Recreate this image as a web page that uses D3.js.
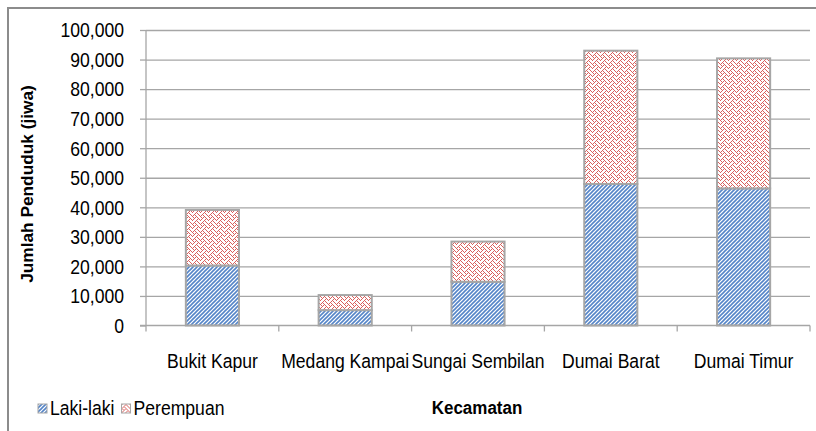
<!DOCTYPE html>
<html>
<head>
<meta charset="utf-8">
<script src="https://d3js.org/d3.v7.min.js"></script>
<style>
body {margin:0; background:#fff;}
svg text {font-family:"Liberation Sans", Arial, sans-serif; fill:#000;}
</style>
</head>
<body>
<svg id="chart" width="816" height="431"></svg>
<script>
// data
const kecamatan = ["Bukit Kapur", "Medang Kampai", "Sungai Sembilan", "Dumai Barat", "Dumai Timur"];
const lakiLaki = [20300, 5200, 14800, 47900, 46400];
const perempuan = [18800, 5100, 13600, 45100, 44000];
const yTicks = [0, 10000, 20000, 30000, 40000, 50000, 60000, 70000, 80000, 90000, 100000];
const seriesNames = ["Laki-laki", "Perempuan"];

const svg = d3.select("#chart");
const plotL = 146, plotR = 810, plotT = 30, plotB = 325.5;
const stretch = "scale(1,1.12)";
const fs = 17.6;

// outer frame, cut off on the right and bottom like the picture
svg.append("rect").attr("x", 8).attr("y", 8).attr("width", 900).attr("height", 500)
  .attr("fill", "none").attr("stroke", "#8c8c8c").attr("stroke-width", 2);

// fill patterns
const defs = svg.append("defs");
const pb = defs.append("pattern").attr("id", "blueHatch").attr("patternUnits", "userSpaceOnUse")
  .attr("width", 4).attr("height", 4);
pb.append("rect").attr("width", 4).attr("height", 4).attr("fill", "#fff");
pb.append("path").attr("d", "M-1,1 l2,-2 M0,4 l4,-4 M3,5 l2,-2")
  .attr("stroke", "#5585c8").attr("stroke-width", 1.6);

// weave bitmap, 8x8
const weaveRows = [0x88, 0x54, 0x22, 0x45, 0x88, 0x14, 0x22, 0x51];
const pr = defs.append("pattern").attr("id", "redWeave").attr("patternUnits", "userSpaceOnUse")
  .attr("width", 8).attr("height", 8);
pr.append("rect").attr("width", 8).attr("height", 8).attr("fill", "#fff");
weaveRows.forEach((bits, r) => {
  for (let c = 0; c < 8; c++) {
    if (bits & (0x80 >> c)) {
      pr.append("rect").attr("x", c).attr("y", r).attr("width", 1).attr("height", 1).attr("fill", "#d9605d");
    }
  }
});

const x = d3.scaleBand().domain(kecamatan).range([plotL, plotR]).paddingInner(0.6).paddingOuter(0.3);
const y = d3.scaleLinear().domain([0, 100000]).range([plotB, plotT]);

// gridlines
svg.append("g").attr("transform", `translate(${plotL},0)`)
  .call(d3.axisLeft(y).tickValues(yTicks.slice(1)).tickSize(-(plotR - plotL)).tickFormat(""))
  .call(g => g.select(".domain").remove())
  .call(g => g.selectAll("line").attr("stroke", "#a6a6a6").attr("stroke-width", 1.3));

// y axis
const yAxis = svg.append("g").attr("transform", `translate(${plotL},0)`)
  .call(d3.axisLeft(y).tickValues(yTicks).tickSize(6).tickPadding(16).tickFormat(d3.format(",")));
yAxis.select(".domain").attr("stroke", "#a6a6a6").attr("stroke-width", 1.3).attr("d", `M0,${plotT}V${plotB}`);
yAxis.selectAll("line").attr("stroke", "#a6a6a6").attr("stroke-width", 1.3);
yAxis.selectAll("text").attr("font-size", fs).attr("fill", "#111")
  .attr("dy", null).attr("dominant-baseline", "central")
  .attr("transform", function() { const tx = d3.select(this).attr("x"); return `translate(${tx},0) ${stretch} translate(${-tx},0)`; });

// stacked bars
const stackData = kecamatan.map((k, i) => ({kec: k, laki: lakiLaki[i], perempuan: perempuan[i]}));
const stacked = d3.stack().keys(["laki", "perempuan"])(stackData);
const fills = ["url(#blueHatch)", "url(#redWeave)"];
svg.append("g").selectAll("g").data(stacked).join("g")
  .attr("fill", (d, i) => fills[i])
  .selectAll("rect").data(d => d).join("rect")
  .attr("x", d => x(d.data.kec))
  .attr("width", x.bandwidth())
  .attr("y", d => y(d[1]))
  .attr("height", d => y(d[0]) - y(d[1]))
  .attr("stroke", "#a6a6a6").attr("stroke-width", 2);

// x axis line and ticks at category boundaries
const xg = svg.append("g");
xg.append("line").attr("x1", plotL - 6).attr("x2", plotR).attr("y1", plotB).attr("y2", plotB)
  .attr("stroke", "#a6a6a6").attr("stroke-width", 1.3);
xg.selectAll(".tk").data(d3.range(kecamatan.length + 1)).join("line")
  .attr("x1", i => x.range()[0] + i * x.step()).attr("x2", i => x.range()[0] + i * x.step())
  .attr("y1", plotB).attr("y2", plotB + 6)
  .attr("stroke", "#a6a6a6").attr("stroke-width", 1.3);
xg.selectAll("text").data(kecamatan).join("text")
  .attr("transform", d => `translate(${x(d) + x.bandwidth() / 2},368) ${stretch}`)
  .attr("text-anchor", "middle").attr("font-size", fs).attr("fill", "#111")
  .text(d => d);

// axis titles
svg.append("text")
  .attr("transform", "translate(33,184) rotate(-90) scale(1.08,1)")
  .attr("text-anchor", "middle").attr("font-size", 16).attr("font-weight", "bold")
  .text("Jumlah Penduduk (jiwa)");
svg.append("text")
  .attr("transform", `translate(477,414) ${stretch}`)
  .attr("text-anchor", "middle").attr("font-size", 17).attr("font-weight", "bold")
  .text("Kecamatan");

// legend
const lg = svg.append("g").attr("transform", "translate(38,0)");
let lx = 0;
seriesNames.forEach((name, i) => {
  const item = lg.append("g").attr("transform", `translate(${lx},0)`);
  item.append("rect").attr("x", 0).attr("y", 404).attr("width", 9).attr("height", 9)
    .attr("fill", fills[i]).attr("stroke", "#a6a6a6").attr("stroke-width", 1);
  const t = item.append("text").attr("transform", `translate(12,415) ${stretch}`)
    .attr("font-size", fs).attr("fill", "#111").text(name);
  lx += 12 + t.node().getComputedTextLength() + 7;
});
</script>
</body>
</html>
